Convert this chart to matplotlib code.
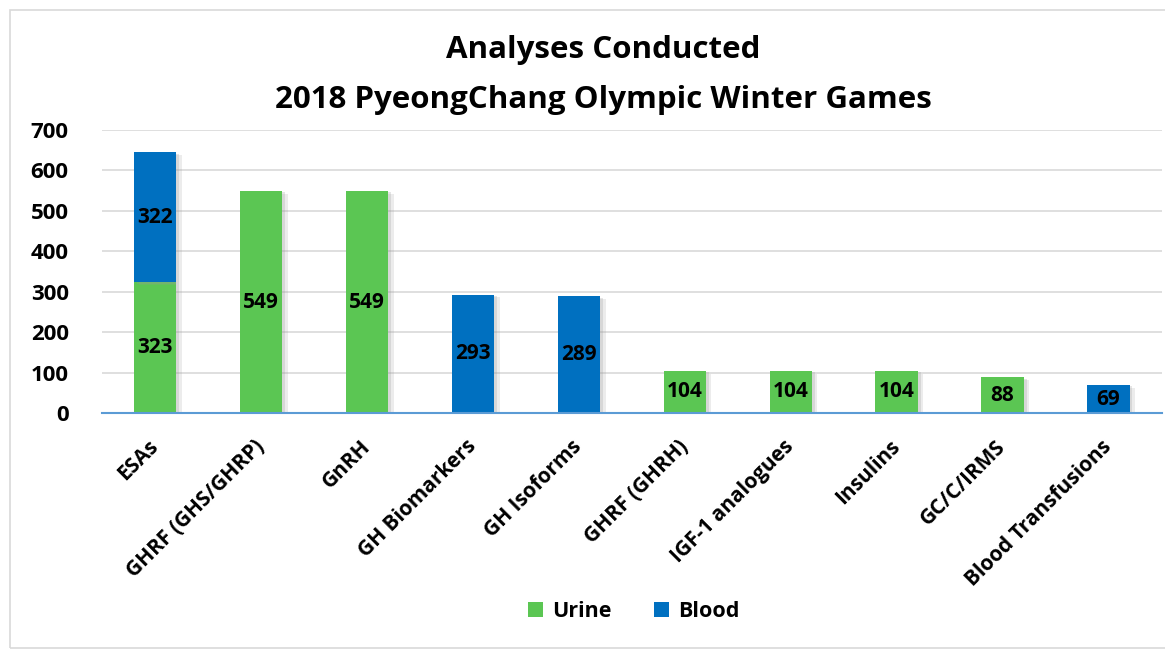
import matplotlib.pyplot as plt
import matplotlib.patheffects as pe
from matplotlib.patches import Rectangle, Patch
import numpy as np

plt.rcParams['font.family'] = ['Open Sans', 'DejaVu Sans']
plt.rcParams['font.weight'] = 'bold'

categories = ['ESAs', 'GHRF (GHS/GHRP)', 'GnRH', 'GH Biomarkers', 'GH Isoforms',
              'GHRF (GHRH)', 'IGF-1 analogues', 'Insulins', 'GC/C/IRMS', 'Blood Transfusions']
urine = [323, 549, 549, 0, 0, 104, 104, 104, 88, 0]
blood = [322, 0, 0, 293, 289, 0, 0, 0, 0, 69]

green = '#5BC653'
blue = '#0070C0'

fig = plt.figure(figsize=(11.65, 6.51), dpi=100)
ax = fig.add_axes([0.0876, 0.3656, 0.9094, 0.4347])

x = np.arange(len(categories))
shadow = [pe.SimplePatchShadow(offset=(4, -2), shadow_rgbFace='#9a9a9a', alpha=0.18),
          pe.SimplePatchShadow(offset=(2, -1), shadow_rgbFace='#9a9a9a', alpha=0.25),
          pe.Normal()]
b1 = ax.bar(x, urine, width=0.4, color=green, zorder=3)
b2 = ax.bar(x, blood, width=0.4, bottom=urine, color=blue, zorder=3)
for p in list(b1) + list(b2):
    if p.get_height() > 0:
        p.set_path_effects(shadow)

# value labels in the middle of each segment
for i in x:
    if urine[i] > 0:
        ax.text(i, urine[i] / 2, str(urine[i]), ha='center', va='center', fontsize=15, fontweight='bold', zorder=4)
    if blood[i] > 0:
        ax.text(i, urine[i] + blood[i] / 2, str(blood[i]), ha='center', va='center', fontsize=15, fontweight='bold', zorder=4)

ax.set_xlim(-0.5, len(categories) - 0.5)
ax.set_ylim(0, 700)
ax.set_yticks(range(0, 701, 100))
ax.grid(axis='y', color='#D9D9D9', linewidth=1.2, zorder=0)
for s in ['top', 'right', 'left']:
    ax.spines[s].set_visible(False)
ax.spines['bottom'].set_color('#5B9BD5')
ax.spines['bottom'].set_linewidth(1.5)
ax.spines['bottom'].set_zorder(5)
ax.tick_params(axis='y', length=0, labelsize=16, pad=24)
ax.tick_params(axis='x', length=0, labelsize=15, pad=22)
ax.set_xticks(x)
ax.set_xticklabels(categories, rotation=45, ha='right', va='center', rotation_mode='anchor', fontweight='bold')
for lab in ax.get_yticklabels():
    lab.set_fontweight('bold')

fig.text(0.518, 1 - 50 / 651, 'Analyses Conducted', ha='center', va='center', fontsize=22.5, fontweight='bold')
fig.text(0.518, 1 - 100 / 651, '2018 PyeongChang Olympic Winter Games', ha='center', va='center',
         fontsize=22.5, fontweight='bold')

handles = [Patch(facecolor=green), Patch(facecolor=blue)]
fig.legend(handles=handles, labels=['Urine', 'Blood'], loc='center', bbox_to_anchor=(0.544, 0.06),
           ncol=2, frameon=False, fontsize=15.5, handlelength=0.7, handleheight=0.7,
           columnspacing=2.0, handletextpad=0.4)

fig.patches.append(Rectangle((10 / 1165, 3 / 651), 1.0, 638 / 651, transform=fig.transFigure,
                             fill=False, edgecolor='#D9D9D9', linewidth=1.2))

fig.savefig('out.png', dpi=100)
